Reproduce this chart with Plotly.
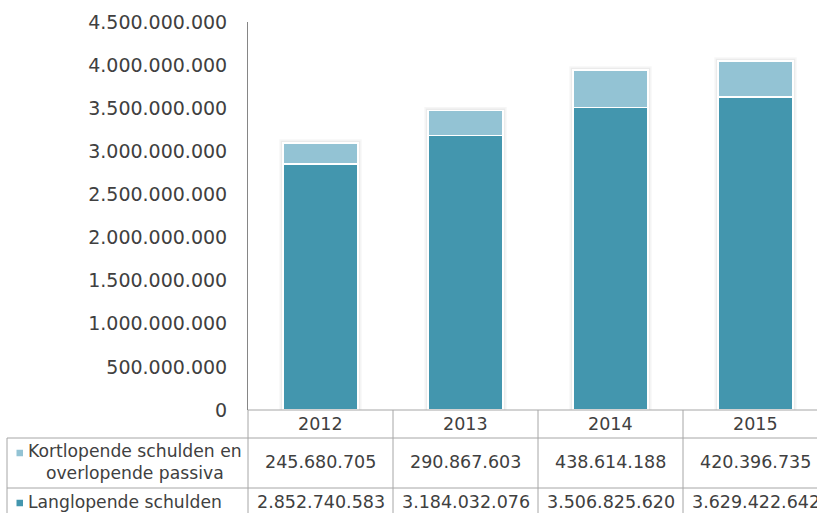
import plotly.graph_objects as go

years = ["2012", "2013", "2014", "2015"]
kort = [245680705, 290867603, 438614188, 420396735]
lang = [2852740583, 3184032076, 3506825620, 3629422642]
kort_label = "Kortlopende schulden en<br>overlopende passiva"
lang_label = "Langlopende schulden"
y_ticks = [0, 500000000, 1000000000, 1500000000, 2000000000, 2500000000,
           3000000000, 3500000000, 4000000000, 4500000000]

C_DARK = "#4396AE"
C_LIGHT = "#93C3D4"
GRID = "#A6A6A6"
TXT = "#404040"
FONT = "DejaVu Sans"

W, H = 817, 513
L, T, B = 248, 22, 103
plot_h = H - T - B
plot_w = W - L
YMAX = 4500000000
BAR_W = 0.52
CAT_PX = 145.0

def py(p):
    return (H - B - p) / plot_h

def px(p):
    return (p - L) / plot_w

def fmt(v):
    return f"{v:,}".replace(",", ".")

xs = list(range(len(years)))
fig = go.Figure()
fig.add_bar(x=xs, y=lang, name=lang_label, marker=dict(color=C_DARK, line=dict(color="white", width=1.5)), width=BAR_W)
fig.add_bar(x=xs, y=kort, name=kort_label, marker=dict(color=C_LIGHT, line=dict(color="white", width=1.5)), width=BAR_W)

shapes = []
# soft bar shadows
ypx = YMAX / plot_h
for i in xs:
    tot = lang[i] + kort[i]
    for grow, alpha in [(3.5, 0.035), (2.0, 0.045)]:
        shapes.append(dict(type="rect", xref="x", yref="y", layer="below",
                           x0=i - BAR_W / 2 - grow / CAT_PX, x1=i + BAR_W / 2 + grow / CAT_PX,
                           y0=0, y1=tot + grow * ypx,
                           fillcolor=f"rgba(0,0,0,{alpha})", line=dict(width=0)))
# horizontal table lines
shapes.append(dict(type="line", xref="paper", yref="paper", x0=0, x1=1.05, y0=0, y1=0, line=dict(color=GRID, width=1)))
for p in [438, 488]:
    shapes.append(dict(type="line", xref="paper", yref="paper", x0=px(7), x1=1.05, y0=py(p), y1=py(p), line=dict(color=GRID, width=1)))
# vertical table lines
shapes.append(dict(type="line", xref="paper", yref="paper", x0=px(7), x1=px(7), y0=py(438), y1=py(520), line=dict(color=GRID, width=1)))
shapes.append(dict(type="line", xref="paper", yref="paper", x0=0, x1=0, y0=0, y1=py(520), line=dict(color=GRID, width=1)))
for b in [0.5, 1.5, 2.5]:
    shapes.append(dict(type="line", xref="x", yref="paper", x0=b, x1=b, y0=0, y1=py(520), line=dict(color=GRID, width=1)))
# legend keys
for (yc, col) in [(453, C_LIGHT), (503, C_DARK)]:
    shapes.append(dict(type="rect", xref="paper", yref="paper", x0=px(16.5), x1=px(23), y0=py(yc - 3.25), y1=py(yc + 3.25), fillcolor=col, line=dict(width=0)))

ann = []
tf = dict(family=FONT, size=17.5, color=TXT)
for i, yr in enumerate(years):
    ann.append(dict(x=i, y=py(424), xref="x", yref="paper", text=yr, showarrow=False, font=tf, xanchor="center", yanchor="middle"))
    ann.append(dict(x=i, y=py(462), xref="x", yref="paper", text=fmt(kort[i]), showarrow=False, font=tf, xanchor="center", yanchor="middle"))
    ann.append(dict(x=i, y=py(502), xref="x", yref="paper", text=fmt(lang[i]), showarrow=False, font=tf, xanchor="center", yanchor="middle"))
lab_f = dict(family=FONT, size=17.2, color=TXT)
ann.append(dict(x=px(25.5), y=py(462), xref="paper", yref="paper", text=kort_label, showarrow=False, font=lab_f, xanchor="left", yanchor="middle", align="center"))
ann.append(dict(x=px(25.5), y=py(502), xref="paper", yref="paper", text=lang_label, showarrow=False, font=lab_f, xanchor="left", yanchor="middle", align="left"))

fig.update_layout(
    width=W, height=H,
    margin=dict(l=L, r=0, t=T, b=B, pad=0),
    barmode="stack",
    showlegend=False,
    plot_bgcolor="white", paper_bgcolor="white",
    separators=",.",
    shapes=shapes, annotations=ann,
    xaxis=dict(range=[-0.5, 3.5 - 11 / CAT_PX], showticklabels=False, showgrid=False, zeroline=False, showline=False, ticks=""),
    yaxis=dict(range=[0, YMAX], tickvals=y_ticks, tickformat=",d", showgrid=False, zeroline=False,
               showline=True, linecolor="#868686", linewidth=1, ticks="", ticklabelstandoff=16,
               tickfont=dict(family=FONT, size=19, color=TXT)),
)
fig.write_html("out.html", config={"displayModeBar": False},
               post_script="document.body.style.margin='0';document.body.style.overflow='hidden';")
